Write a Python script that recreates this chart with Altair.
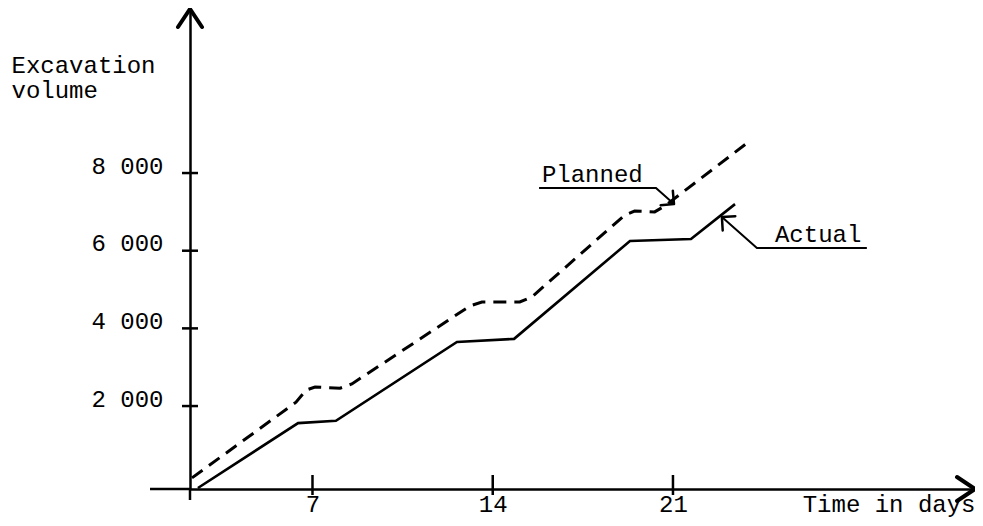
import altair as alt
import pandas as pd

# ---- values ----
actual_days = [2.55, 6.44, 7.91, 12.61, 14.83, 19.33, 21.70, 23.41]
actual_volume = [-110, 1560, 1620, 3650, 3730, 6250, 6300, 7200]

planned_days = [2.32, 6.36, 6.75, 7.10, 8.07, 8.53, 13.12, 13.58, 15.05,
                15.52, 19.13, 19.51, 20.29, 20.68, 23.87]
planned_volume = [150, 2100, 2410, 2490, 2460, 2570, 4580, 4680, 4680,
                  4810, 6920, 7020, 7000, 7150, 8770]

x_ticks = [7, 14, 21]
y_ticks = [2000, 4000, 6000, 8000]
y_tick_labels = ["2 000", "4 000", "6 000", "8 000"]
x_title = "Time in days"
y_title = ["Excavation", "volume"]

# annotation labels, their anchor and leader lines
note_text = ["Planned", "Actual"]
note_day = [15.91, 24.96]
note_volume = [7769, 6224]
planned_leader_day = [15.80, 20.34, 21.04]
planned_leader_volume = [7614, 7614, 7202]
actual_leader_day = [28.53, 24.26, 22.90]
actual_leader_volume = [6069, 6069, 6868]

# ---- scales ----
FONT = "Liberation Mono"
X_DOMAIN = [2.243, 32.73]
Y_DOMAIN = [-136, 12224]
X_AXIS_LEFT_EXT = 0.69
Y_AXIS_LOW_EXT = -420

x_scale = alt.Scale(domain=X_DOMAIN, nice=False, zero=False)
y_scale = alt.Scale(domain=Y_DOMAIN, nice=False, zero=False)

label_expr = " : ".join(
    f"datum.value == {v} ? '{t}'" for v, t in zip(y_ticks, y_tick_labels)
) + " : ''"

x_axis = alt.Axis(
    values=x_ticks, ticks=False, grid=False, domain=True,
    domainColor="black", domainWidth=2.5,
    labelFont=FONT, labelFontSize=24, labelColor="black",
    labelPadding=22, labelBaseline="alphabetic", labelAlign="center",
    labelOverlap=False, labelFlush=False,
    title=x_title, titleFont=FONT, titleFontSize=24,
    titleFontWeight="normal", titleColor="black",
    titleX=785, titleY=22, titleAlign="right", titleBaseline="alphabetic",
)
y_axis = alt.Axis(
    values=y_ticks, ticks=False, grid=False, domain=True,
    domainColor="black", domainWidth=2.5,
    labelFont=FONT, labelFontSize=24, labelColor="black",
    labelPadding=27, labelBaseline="alphabetic", labelAlign="right",
    labelOverlap=False, labelFlush=False, labelExpr=label_expr,
    title=y_title, titleFont=FONT, titleFontSize=24,
    titleFontWeight="normal", titleColor="black",
    titleX=-179, titleY=63, titleAlign="left", titleBaseline="alphabetic",
    titleAngle=0, titleLineHeight=25,
)


def X(field):
    return alt.X(f"{field}:Q", scale=x_scale, axis=x_axis)


def Y(field):
    return alt.Y(f"{field}:Q", scale=y_scale, axis=y_axis)


# ---- tables ----
planned_df = pd.DataFrame({"day": planned_days, "volume": planned_volume})
actual_df = pd.DataFrame({"day": actual_days, "volume": actual_volume})

ext_df = pd.DataFrame({
    "x": [X_AXIS_LEFT_EXT, X_DOMAIN[0]],
    "x2": [X_DOMAIN[0], X_DOMAIN[0]],
    "y": [Y_DOMAIN[0], Y_DOMAIN[0]],
    "y2": [Y_DOMAIN[0], Y_AXIS_LOW_EXT],
})

leader_df = pd.DataFrame({
    "day": planned_leader_day + actual_leader_day,
    "volume": planned_leader_volume + actual_leader_volume,
    "id": ["Planned"] * 3 + ["Actual"] * 3,
    "order": [0, 1, 2, 0, 1, 2],
})

ytick_df = pd.DataFrame({"day": [X_DOMAIN[0]] * len(y_ticks), "volume": y_ticks})
xtick_df = pd.DataFrame({"day": x_ticks, "volume": [Y_DOMAIN[0]] * len(x_ticks)})

axis_arrow_df = pd.DataFrame({
    "day": [X_DOMAIN[0], X_DOMAIN[1]],
    "volume": [Y_DOMAIN[1], Y_DOMAIN[0]],
    "angle": [270, 0],
})
note_arrow_df = pd.DataFrame({
    "day": [planned_leader_day[-1], actual_leader_day[-1]],
    "volume": [planned_leader_volume[-1], actual_leader_volume[-1]],
    "angle": [40, 221.5],
})
note_df = pd.DataFrame({"day": note_day, "volume": note_volume, "text": note_text})

# ---- layers ----
planned = alt.Chart(planned_df).mark_line(
    color="black", strokeWidth=3, strokeDash=[13, 8]
).encode(x=X("day"), y=Y("volume"))

actual = alt.Chart(actual_df).mark_line(
    color="black", strokeWidth=2.6
).encode(x=X("day"), y=Y("volume"))

extensions = alt.Chart(ext_df).mark_rule(color="black", strokeWidth=2.5).encode(
    x=X("x"), x2="x2", y=Y("y"), y2="y2"
)

leaders = alt.Chart(leader_df).mark_line(color="black", strokeWidth=2).encode(
    x=X("day"), y=Y("volume"), detail="id:N", order="order:Q"
)

yticks = alt.Chart(ytick_df).mark_tick(
    orient="horizontal", size=16, thickness=2.5, color="black", opacity=1
).encode(x=X("day"), y=Y("volume"))

xticks = alt.Chart(xtick_df).mark_tick(
    orient="vertical", size=20, thickness=2.5, color="black", opacity=1, yOffset=-4
).encode(x=X("day"), y=Y("volume"))

axis_arrows = alt.Chart(axis_arrow_df).mark_point(
    shape="M -1.5 -1 L 0 0 L -1.5 1", size=576, filled=False,
    strokeWidth=4, color="black", opacity=1, strokeCap="round", strokeJoin="round"
).encode(x=X("day"), y=Y("volume"), angle=alt.Angle("angle:Q", scale=None))

note_arrows = alt.Chart(note_arrow_df).mark_point(
    shape="M -1 -1 L 0 0 L -1 1", size=360, filled=False,
    strokeWidth=2.5, color="black", opacity=1, strokeCap="round", strokeJoin="round"
).encode(x=X("day"), y=Y("volume"), angle=alt.Angle("angle:Q", scale=None))

notes = alt.Chart(note_df).mark_text(
    align="left", baseline="alphabetic", font=FONT, fontSize=24, color="black"
).encode(x=X("day"), y=Y("volume"), text="text:N")

chart = alt.layer(
    extensions, planned, actual, leaders, yticks, xticks,
    axis_arrows, note_arrows, notes
).properties(
    width=785, height=480,
    padding={"left": 182, "top": 1, "right": 0, "bottom": 29},
    autosize=alt.AutoSizeParams(type="none"),
    background="white",
).configure_view(stroke=None)

chart.save("out.html", embed_options={"renderer": "svg", "actions": False})
